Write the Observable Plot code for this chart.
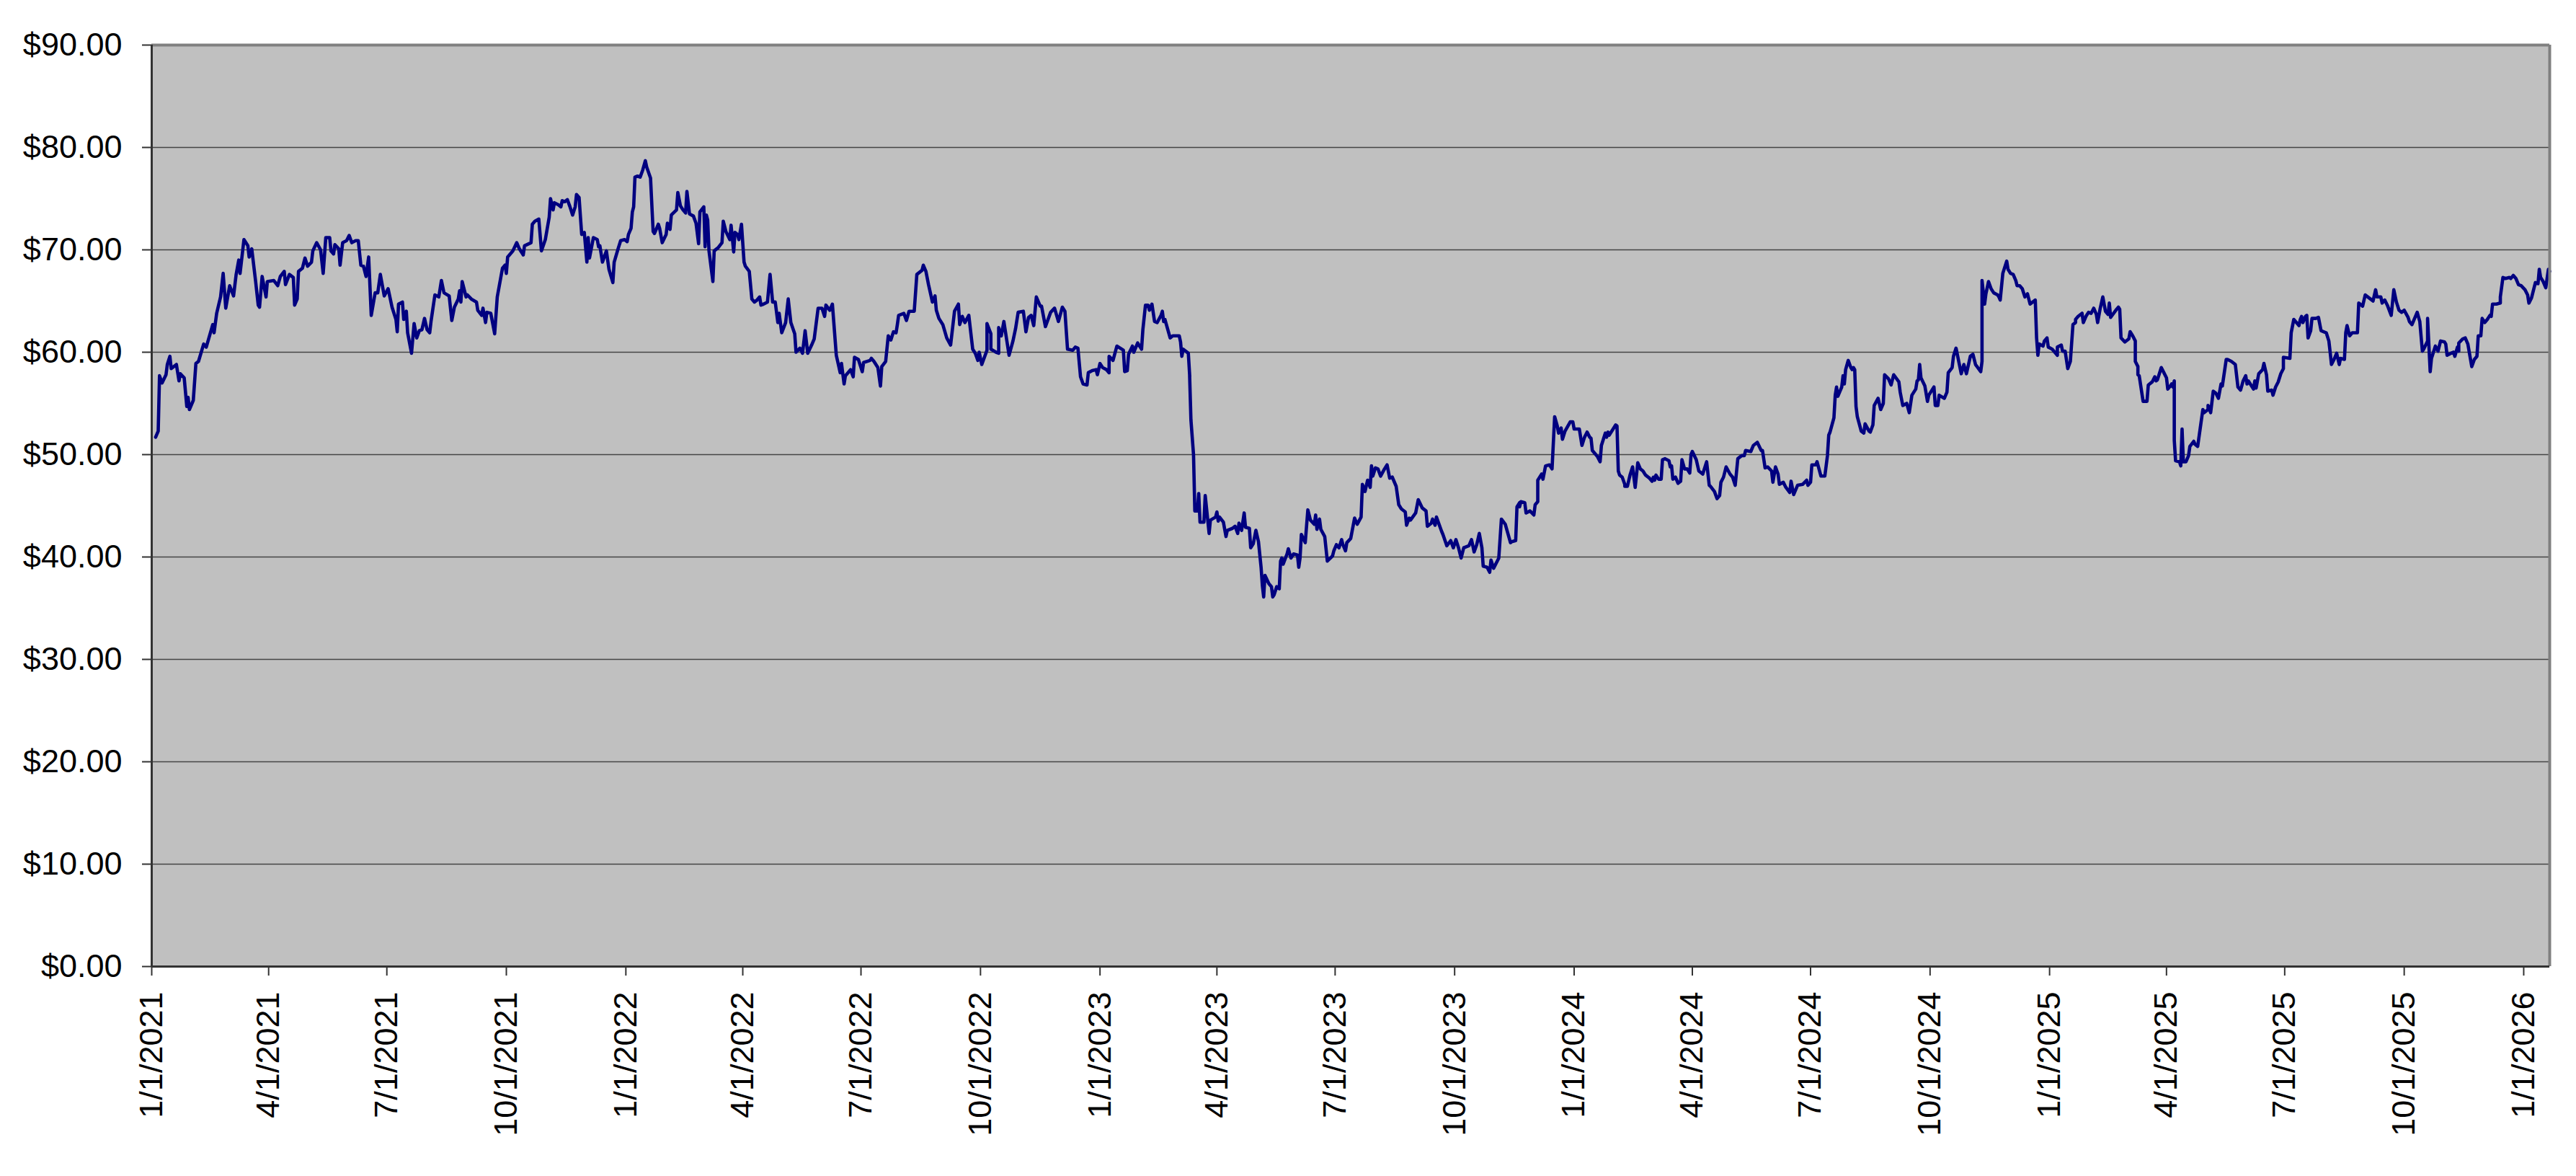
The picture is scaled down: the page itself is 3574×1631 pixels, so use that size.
<!DOCTYPE html>
<html><head><meta charset="utf-8">
<script src="https://cdn.jsdelivr.net/npm/d3@7"></script>
<script src="https://cdn.jsdelivr.net/npm/@observablehq/plot@0.6"></script>
<style>html,body{margin:0;padding:0;background:#fff;overflow:hidden;}</style>
</head><body><div id="chart"></div>
<script>
// x domain (dates) and tick labels
const startDate = "2021-01-01";
const endDate = "2026-01-21";
const xTickDates = ["2021-01-01","2021-04-01","2021-07-01","2021-10-01",
  "2022-01-01","2022-04-01","2022-07-01","2022-10-01",
  "2023-01-01","2023-04-01","2023-07-01","2023-10-01",
  "2024-01-01","2024-04-01","2024-07-01","2024-10-01",
  "2025-01-01","2025-04-01","2025-07-01","2025-10-01","2026-01-01"];
const yTickValues = [0,10,20,30,40,50,60,70,80,90];

// [days since 1/1/2021, closing price in $]
const priceSeries = [
[3,51.7],[5,52.3],[6,57.7],[8,57.0],[11,57.8],[12,58.8],[14,59.6],[15,58.4],[19,58.8],[21,57.2],[22,57.9],[25,57.5],[27,54.7],[28,55.6],[29,54.4],[32,55.3],[34,58.9],[36,59.1],[40,60.8],[42,60.5],[47,62.7],[48,61.9],[50,63.8],[53,65.4],[55,67.7],[57,64.3],[60,66.5],[63,65.5],[65,67.6],[67,69.0],[68,67.7],[71,71.0],[74,70.4],[75,69.3],[77,70.1],[80,66.9],[82,64.6],[83,64.4],[85,67.4],[88,65.4],[89,66.9],[94,67.0],[97,66.5],[99,67.4],[102,67.9],[103,66.6],[106,67.6],[109,67.3],[110,64.6],[112,65.2],[113,67.9],[116,68.2],[118,69.2],[120,68.4],[123,68.8],[124,69.9],[127,70.7],[130,70.0],[132,67.7],[134,71.2],[137,71.2],[138,69.9],[140,69.6],[141,70.5],[144,70.1],[145,68.5],[147,70.7],[150,70.9],[152,71.4],[154,70.7],[157,70.9],[159,70.9],[161,68.5],[163,68.4],[165,67.4],[167,69.3],[169,63.6],[172,65.8],[174,65.8],[176,67.6],[179,65.5],[182,66.2],[185,64.4],[188,63.2],[189,62.0],[190,64.7],[193,64.9],[194,63.2],[196,64.0],[197,61.9],[200,59.9],[202,62.8],[204,61.4],[206,62.1],[208,62.2],[210,63.3],[212,62.2],[214,61.9],[215,63.0],[218,65.6],[221,65.4],[223,67.0],[225,65.8],[229,65.5],[231,63.1],[233,64.4],[236,65.2],[237,66.0],[238,64.9],[239,66.9],[242,65.4],[243,65.6],[246,65.2],[250,64.9],[251,64.1],[254,63.6],[255,64.3],[257,62.9],[258,63.9],[261,63.8],[264,61.8],[266,65.4],[270,68.2],[272,68.5],[273,67.7],[274,69.3],[278,69.9],[281,70.7],[283,70.1],[286,69.5],[287,70.4],[292,70.7],[293,72.5],[295,72.8],[298,73.0],[300,69.9],[303,71.0],[306,73.2],[307,75.0],
[309,73.9],[310,74.6],[313,74.4],[315,74.2],[316,74.8],[318,74.7],[320,74.9],[322,74.2],[324,73.4],[326,74.2],[327,75.4],[329,75.1],[331,71.5],[333,71.7],[335,68.8],[336,71.2],[337,69.2],[340,71.2],[343,71.0],[344,70.3],[345,70.4],[347,68.8],[350,69.9],[352,68.1],[355,66.8],[356,68.8],[359,70.1],[361,70.9],[364,71.0],[366,70.8],[367,71.5],[369,72.1],[370,73.7],[371,74.2],[372,77.1],[374,77.2],[376,77.1],[378,77.8],[380,78.7],[381,78.1],[384,77.0],[386,71.8],[387,71.6],[390,72.5],[391,72.1],[393,70.7],[396,71.5],[397,72.6],[399,72.0],[400,73.4],[404,73.9],[405,75.6],[407,74.3],[409,73.9],[411,73.6],[412,75.7],[414,73.5],[417,73.3],[419,72.6],[421,70.6],[422,73.7],[425,74.2],[426,70.3],[427,73.4],[428,72.9],[429,69.9],[432,66.9],[433,69.9],[436,70.2],[439,70.7],[440,72.8],[442,71.8],[445,71.0],[446,72.4],[448,69.8],[449,71.7],[451,71.5],[452,71.0],[454,72.5],[456,68.8],[457,68.4],[460,67.9],[462,65.2],[464,64.9],[466,65.1],[468,65.4],[469,64.6],[471,64.7],[474,64.9],[476,67.6],[478,64.9],[480,64.9],[482,62.9],[483,63.8],[485,61.9],[488,62.9],[490,65.2],[492,62.9],[495,61.8],[496,60.0],[499,60.4],[501,59.9],[503,62.1],[505,59.9],[508,60.7],[510,61.3],[513,64.3],[516,64.3],[518,63.5],[519,64.6],[522,64.1],[524,64.7],[527,59.7],[530,58.0],[531,58.9],[533,56.9],[534,57.7],[538,58.3],[540,57.6],[541,59.5],[544,59.3],[547,58.1],[548,59.0],[553,59.2],[554,59.4],[556,59.1],[559,58.5],[561,56.7],[562,58.6],[565,59.1],[567,61.6],[569,61.2],[571,62.0],[573,61.9],[574,62.7],[575,63.6],[579,63.8],[581,63.1],[583,64.0],[587,64.0],[589,67.6],[593,68.0],[594,68.5],[596,67.9],[598,66.6],[601,64.9],[603,65.5],[604,64.1],[606,63.3],[609,62.7],[612,61.4],[615,60.7],[618,64.0],
[621,64.7],[622,62.7],[624,63.5],[626,62.9],[629,63.6],[632,60.3],[634,59.9],[636,59.2],[637,60.0],[639,58.8],[643,60.2],[643,62.8],[646,61.8],[646,60.3],[650,60.0],[652,59.9],[652,62.4],[654,61.6],[656,63.0],[660,59.7],[663,61.1],[665,62.3],[667,63.9],[671,64.0],[673,62.0],[675,63.4],[677,63.6],[679,62.6],[681,65.4],[684,64.5],[685,64.5],[688,62.5],[692,63.9],[695,64.3],[698,63.0],[701,64.4],[703,64.0],[705,60.3],[709,60.2],[711,60.5],[713,60.4],[715,57.6],[717,56.9],[720,56.8],[721,58.0],[724,58.2],[727,58.3],[728,57.8],[730,58.9],[732,58.5],[735,58.3],[737,58.0],[737,59.6],[740,59.2],[743,60.6],[748,60.2],[749,58.1],[751,58.2],[752,59.8],[755,60.6],[756,60.0],[759,60.9],[762,60.3],[763,62.2],[765,64.6],[767,64.6],[768,64.1],[770,64.7],[772,63.0],[774,62.9],[777,63.6],[778,64.0],[779,63.0],[780,63.2],[784,61.4],[786,61.6],[791,61.6],[792,61.0],[793,59.6],[794,60.3],[798,59.9],[799,57.8],[799,57.7],[800,53.4],[802,50.0],[803,44.5],[805,44.5],[806,46.2],[807,43.4],[810,43.4],[811,46.0],[814,42.3],[815,43.6],[819,43.9],[820,44.4],[821,43.5],[822,43.9],[825,43.4],[827,42.0],[828,42.6],[832,42.8],[834,43.0],[836,42.3],[837,43.3],[839,42.6],[841,44.3],[842,42.9],[845,42.8],[846,40.9],[848,41.3],[850,42.6],[852,41.5],[854,39.0],[855,37.2],[856,36.1],[857,38.2],[860,37.4],[862,37.1],[863,36.1],[864,36.3],[866,37.1],[868,36.9],[869,39.6],[870,39.9],[871,39.3],[874,40.3],[875,40.8],[877,39.9],[879,40.3],[882,40.2],[883,39.0],[884,39.9],[885,42.2],[888,41.4],[890,44.6],[892,43.6],[895,43.2],[896,44.1],[897,42.7],[899,43.7],[900,42.7],[903,42.0],[905,39.6],[909,40.1],[910,40.6],[912,41.2],[914,40.9],[916,41.7],[917,41.2],[919,40.6],[920,41.4],[923,41.8],[926,43.8],[928,43.2],
[931,43.9],[932,47.1],[934,46.4],[936,47.5],[938,46.8],[939,48.9],[940,47.9],[942,48.7],[944,48.6],[946,47.9],[949,48.6],[951,49.0],[953,47.7],[955,47.8],[958,46.9],[960,45.1],[962,44.7],[965,44.4],[966,43.1],[968,43.8],[969,43.6],[973,44.3],[975,45.6],[978,44.8],[981,44.5],[982,43.0],[985,43.3],[986,43.7],[988,43.1],[989,43.9],[993,42.5],[994,42.2],[997,41.1],[1000,41.6],[1002,40.9],[1004,41.7],[1006,40.9],[1008,39.9],[1010,40.9],[1014,41.1],[1016,41.7],[1018,40.5],[1020,41.2],[1022,42.3],[1024,40.9],[1025,39.1],[1028,39.0],[1030,38.5],[1031,39.7],[1033,38.9],[1037,39.9],[1039,43.7],[1042,43.2],[1044,42.3],[1046,41.4],[1047,41.5],[1050,41.6],[1051,44.9],[1053,45.3],[1053,44.9],[1054,45.4],[1057,45.3],[1058,44.3],[1061,44.5],[1064,44.1],[1065,45.1],[1067,45.4],[1067,47.5],[1070,48.1],[1071,47.6],[1073,48.9],[1076,49.0],[1078,48.6],[1080,53.7],[1082,52.8],[1083,52.1],[1085,52.6],[1086,51.5],[1088,52.3],[1092,53.2],[1094,53.2],[1095,52.5],[1099,52.5],[1101,50.9],[1103,51.7],[1105,52.2],[1107,51.7],[1108,51.6],[1109,50.4],[1113,49.8],[1115,49.3],[1116,50.9],[1119,52.1],[1120,51.7],[1121,52.2],[1122,51.9],[1125,52.5],[1127,52.9],[1128,52.8],[1129,48.4],[1130,48.0],[1132,47.8],[1134,47.1],[1134,46.9],[1136,46.9],[1138,48.0],[1140,48.8],[1142,46.8],[1144,49.2],[1146,48.6],[1148,48.4],[1150,48.0],[1153,47.7],[1155,47.4],[1156,47.8],[1157,47.5],[1158,48.0],[1160,47.6],[1162,47.6],[1163,49.5],[1165,49.6],[1168,49.4],[1169,48.8],[1170,48.9],[1171,47.6],[1173,47.8],[1175,47.2],[1177,47.4],[1178,49.5],[1180,48.6],[1182,48.6],[1184,48.2],[1185,50.0],[1186,50.3],[1189,49.5],[1191,48.4],[1194,48.1],[1197,49.3],[1199,47.0],[1200,46.9],[1203,46.4],[1205,45.7],[1207,46.0],[1208,47.3],[1210,47.8],[1212,48.8],[1215,48.1],[1217,47.8],[1219,47.0],[1221,49.6],[1224,49.9],[1226,49.9],[1227,50.4],[1231,50.3],[1233,50.9],[1236,51.2],[1239,50.4],
[1240,50.4],[1242,48.7],[1244,48.8],[1247,48.4],[1248,47.3],[1250,48.8],[1252,48.1],[1253,47.1],[1256,47.3],[1258,46.8],[1261,46.3],[1262,47.4],[1264,46.1],[1267,47.0],[1271,47.1],[1274,47.5],[1275,47.0],[1277,47.3],[1278,49.0],[1281,49.0],[1282,49.3],[1285,47.9],[1288,47.9],[1290,49.9],[1291,51.9],[1292,52.2],[1295,53.6],[1296,55.8],[1297,56.6],[1298,55.7],[1301,56.6],[1302,57.7],[1303,56.9],[1304,58.3],[1306,59.2],[1308,58.5],[1309,58.3],[1310,58.5],[1311,58.3],[1312,54.7],[1313,53.7],[1316,52.3],[1318,52.1],[1319,53.0],[1322,52.3],[1323,52.2],[1325,52.9],[1326,54.8],[1329,55.5],[1331,54.4],[1333,55.0],[1334,57.8],[1337,57.4],[1339,56.8],[1341,57.8],[1345,57.1],[1346,56.1],[1348,54.8],[1351,55.0],[1353,54.1],[1355,55.8],[1358,56.4],[1359,57.2],[1360,57.3],[1361,58.8],[1362,57.5],[1365,56.7],[1367,55.2],[1368,55.8],[1372,56.6],[1373,54.8],[1375,54.8],[1376,55.8],[1380,55.5],[1382,56.1],[1383,58.0],[1386,58.5],[1387,59.6],[1389,60.4],[1393,57.9],[1395,58.8],[1397,57.9],[1400,59.6],[1402,59.8],[1404,58.8],[1408,58.1],[1409,59.1],[1409,67.0],[1411,64.7],[1412,65.7],[1414,66.9],[1416,66.2],[1418,65.8],[1421,65.6],[1422,65.4],[1423,65.1],[1425,67.7],[1428,68.9],[1429,68.1],[1431,67.7],[1433,67.6],[1435,67.0],[1436,66.5],[1438,66.5],[1440,66.2],[1442,65.4],[1444,65.7],[1446,64.7],[1450,65.1],[1451,61.4],[1452,59.7],[1453,60.8],[1456,60.6],[1457,61.1],[1459,61.4],[1460,60.5],[1463,60.3],[1467,59.7],[1467,60.5],[1470,60.7],[1471,60.1],[1473,60.1],[1475,58.4],[1477,59.1],[1479,62.7],[1481,62.9],[1481,63.2],[1483,63.5],[1486,63.8],[1487,62.9],[1489,63.5],[1491,63.9],[1493,63.8],[1495,64.3],[1497,63.7],[1498,62.9],[1500,64.3],[1502,65.4],[1504,64.0],[1506,63.7],[1507,64.8],[1508,63.4],[1512,64.1],[1514,64.4],[1515,64.2],[1516,61.4],[1519,61.0],[1522,61.3],[1523,62.0],[1525,61.6],[1527,61.1],[1527,59.1],[1529,58.6],[1529,57.8],[1530,57.7],[1533,55.2],[1535,55.2],[1536,55.2],[1537,56.8],[1540,57.1],[1542,57.6],[1543,57.2],[1544,57.3],[1547,58.5],[1549,58.0],
[1551,57.5],[1552,56.4],[1554,56.7],[1555,56.9],[1556,56.6],[1557,57.2],[1557,51.4],[1558,49.4],[1561,49.3],[1562,48.9],[1563,52.5],[1564,49.3],[1566,49.3],[1568,49.9],[1569,50.8],[1572,51.3],[1573,51.0],[1575,50.8],[1577,52.6],[1579,54.4],[1580,54.1],[1583,54.4],[1583,54.8],[1585,54.1],[1587,56.2],[1589,56.0],[1591,55.5],[1593,56.9],[1594,56.7],[1597,59.3],[1598,59.3],[1601,59.1],[1604,58.8],[1606,56.6],[1608,56.3],[1610,57.2],[1612,57.7],[1613,56.9],[1614,57.2],[1617,56.6],[1618,56.4],[1619,57.2],[1620,56.5],[1622,57.9],[1625,58.3],[1626,58.9],[1628,57.8],[1629,56.2],[1632,56.3],[1633,55.8],[1635,56.6],[1637,57.1],[1639,57.9],[1641,58.4],[1641,59.5],[1646,59.4],[1647,61.9],[1649,63.2],[1651,62.9],[1653,62.6],[1654,63.2],[1655,63.5],[1656,62.9],[1658,63.5],[1659,63.6],[1660,61.4],[1662,62.1],[1663,63.3],[1666,63.3],[1668,63.4],[1670,62.1],[1672,62.0],[1674,61.9],[1676,61.1],[1677,60.0],[1678,58.8],[1680,59.3],[1682,59.9],[1684,58.8],[1685,59.4],[1688,59.3],[1689,61.9],[1690,62.6],[1692,61.6],[1694,61.9],[1698,61.9],[1699,64.8],[1701,64.6],[1702,64.5],[1704,65.6],[1706,65.4],[1708,65.2],[1710,65.0],[1712,66.1],[1713,65.4],[1716,65.4],[1717,64.8],[1719,65.1],[1721,64.6],[1724,63.6],[1726,66.1],[1728,64.9],[1730,64.1],[1732,63.9],[1734,64.1],[1737,63.4],[1738,63.0],[1740,62.7],[1742,63.3],[1744,63.9],[1746,63.0],[1748,60.1],[1749,60.3],[1752,61.1],[1752,63.3],[1754,58.1],[1755,59.4],[1758,60.6],[1760,60.1],[1762,61.1],[1765,61.0],[1766,60.8],[1767,59.7],[1770,59.9],[1772,60.0],[1773,59.6],[1775,60.5],[1776,60.1],[1776,60.9],[1779,61.3],[1781,61.4],[1783,60.8],[1786,58.6],[1788,59.3],[1790,59.6],[1791,61.6],[1793,61.6],[1794,63.3],[1796,62.9],[1798,63.2],[1800,63.6],[1801,63.5],[1802,64.7],[1805,64.7],[1808,64.8],[1808,65.4],[1810,67.3],[1812,67.2],[1815,67.3],[1816,67.2],[1818,67.5],[1820,67.2],[1822,66.6],[1824,66.5],[1827,66.1],[1829,65.6],[1830,64.8],[1832,65.3],[1835,66.8],[1837,66.7],[1838,68.1],[1839,67.3],[1841,66.9],[1843,66.3],[1845,68.1],[1846,67.9]
];

const base = new Date(startDate);
const data = priceSeries.map(([d, p]) => ({date: new Date(base.getTime() + d * 864e5), price: p}));
const fmtDate = d => `${d.getUTCMonth() + 1}/${d.getUTCDate()}/${d.getUTCFullYear()}`;

const chart = Plot.plot({
  width: 3574,
  height: 1631,
  marginLeft: 210,
  marginRight: 37,
  marginTop: 62,
  marginBottom: 291,
  style: {fontFamily: "'Liberation Sans', Arial, sans-serif", fontSize: "45px", background: "#fff", color: "#000", overflow: "visible"},
  x: {type: "utc", domain: [new Date(startDate), new Date(endDate)], label: null},
  y: {domain: [0, 90], label: null},
  marks: [
    Plot.frame({fill: "#c0c0c0", stroke: "none"}),
    Plot.gridY(yTickValues.slice(1, -1), {stroke: "#454545", strokeOpacity: 1, strokeWidth: 1.6}),
    Plot.line(data, {x: "date", y: "price", stroke: "#000080", strokeWidth: 4.6, strokeLinejoin: "round"}),
    Plot.ruleY([90], {stroke: "#808080", strokeWidth: 4}),
    Plot.ruleX([new Date(endDate)], {stroke: "#808080", strokeWidth: 4}),
    Plot.ruleX([new Date(startDate)], {stroke: "#333", strokeWidth: 3}),
    Plot.ruleY([0], {stroke: "#333", strokeWidth: 3}),
    Plot.axisY(yTickValues, {label: null, tickSize: 13, tickPadding: 28, tickFormat: d3.format("$.2f"), stroke: "#333", strokeWidth: 2}),
    Plot.axisX(xTickDates.map(s => new Date(s)), {label: null, tickSize: 13, tickPadding: 22, tickRotate: -90, tickFormat: fmtDate, stroke: "#333", strokeWidth: 2})
  ]
});
document.getElementById("chart").appendChild(chart);
</script>
</body></html>
